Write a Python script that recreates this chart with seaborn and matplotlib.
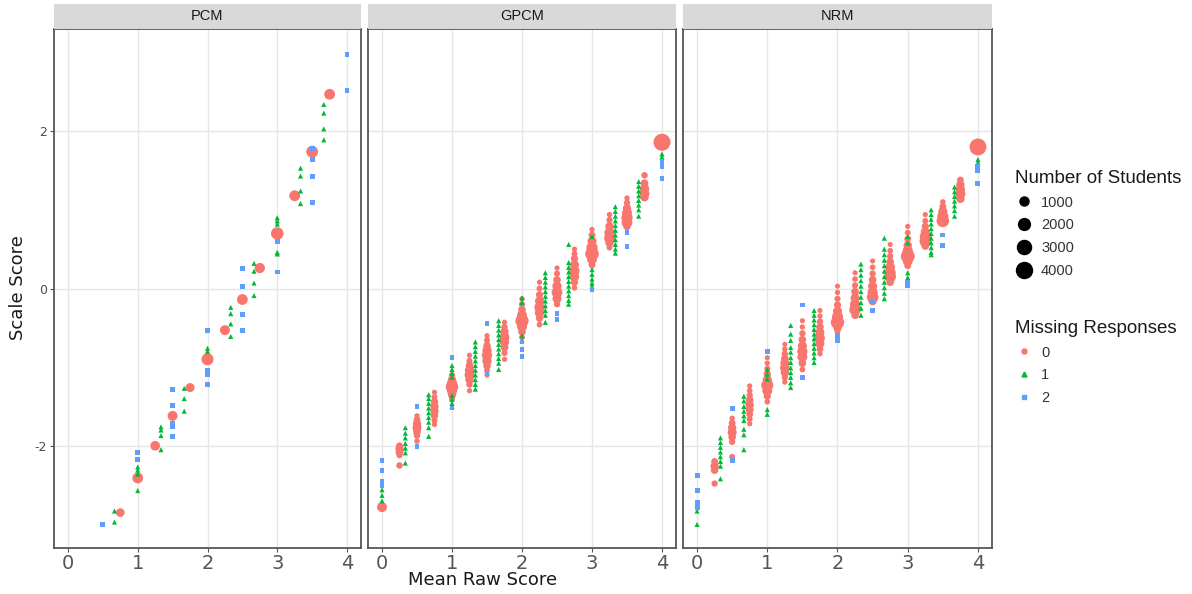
import numpy as np
import pandas as pd
import matplotlib
matplotlib.use("Agg")
import matplotlib.pyplot as plt
from matplotlib.lines import Line2D
import seaborn as sns

# ---------------------------------------------------------------------------
# Scale scores by mean raw score, for three IRT models.
# Missing responses: 0 -> raw scores in steps of 1/4, 1 -> steps of 1/3,
# 2 -> steps of 1/2.  Each inner list holds the distinct scale scores found
# at that raw score (response patterns); counts are numbers of students.
# ---------------------------------------------------------------------------
models = ["PCM", "GPCM", "NRM"]
missing_levels = ["0", "1", "2"]
x_ticks = [0, 1, 2, 3, 4]
y_ticks = [-2, 0, 2]
size_breaks = [1000, 2000, 3000, 4000]

# ---- PCM ------------------------------------------------------------------
pcm_m0_x = [0.75, 1.0, 1.25, 1.5, 1.75, 2.0, 2.25, 2.5, 2.75, 3.0, 3.25, 3.5, 3.75]
pcm_m0_y = [-2.85, -2.41, -2.00, -1.62, -1.26, -0.90, -0.53, -0.14, 0.26, 0.70, 1.18, 1.74, 2.47]
pcm_m0_n = [900, 1600, 1200, 1300, 1000, 2100, 1300, 1600, 1400, 2300, 1600, 2000, 1600]

pcm_m1_x = [2/3, 1.0, 4/3, 5/3, 2.0, 7/3, 8/3, 3.0, 10/3, 11/3]
pcm_m1_y = [[-2.97, -2.83], [-2.27, -2.31, -2.36, -2.57], [-1.76, -1.80, -1.87, -2.05],
            [-1.27, -1.40, -1.56], [-0.76, -0.80], [-0.24, -0.32, -0.45, -0.61],
            [0.32, 0.22, 0.07, -0.09], [0.90, 0.86, 0.82, 0.46, 0.44],
            [1.53, 1.43, 1.24, 1.08], [2.34, 2.23, 2.03, 1.89]]
pcm_m1_n = [50, 60, 55, 50, 60, 55, 50, 65, 55, 50]

pcm_m2_x = [0.5, 1.0, 1.5, 2.0, 2.5, 3.0, 3.5, 4.0]
pcm_m2_y = [[-3.00], [-2.08, -2.17], [-1.29, -1.49, -1.72, -1.76, -1.88],
            [-0.54, -1.04, -1.10, -1.22], [0.25, 0.03, -0.33, -0.53], [0.60, 0.21],
            [1.78, 1.64, 1.42, 1.09], [2.97, 2.52]]
pcm_m2_n = [15, 20, 15, 20, 15, 20, 20, 15]

# ---- GPCM -----------------------------------------------------------------
gpcm_m0_x = [0.0, 0.25, 0.5, 0.75, 1.0, 1.25, 1.5, 1.75, 2.0, 2.25, 2.5, 2.75,
             3.0, 3.25, 3.5, 3.75, 4.0]
gpcm_m0_y = [[-2.78],
             [-2.00, -2.04, -2.08, -2.12, -2.25],
             [-1.62, -1.67, -1.72, -1.77, -1.82, -1.87, -1.94],
             [-1.32, -1.38, -1.44, -1.50, -1.56, -1.62, -1.68, -1.73],
             [-1.10, -1.15, -1.20, -1.25, -1.30, -1.35, -1.41],
             [-0.85, -0.92, -0.98, -1.04, -1.10, -1.16, -1.22, -1.30],
             [-0.60, -0.66, -0.73, -0.79, -0.85, -0.92, -0.98, -1.04, -1.10],
             [-0.43, -0.49, -0.55, -0.62, -0.68, -0.75, -0.82, -0.90],
             [-0.13, -0.20, -0.27, -0.34, -0.41, -0.48, -0.55, -0.62],
             [0.08, 0.00, -0.08, -0.16, -0.24, -0.31, -0.38, -0.46],
             [0.26, 0.19, 0.11, 0.03, -0.05, -0.13, -0.20],
             [0.50, 0.44, 0.38, 0.30, 0.22, 0.15, 0.08, 0.01],
             [0.75, 0.68, 0.60, 0.52, 0.44, 0.37, 0.30],
             [0.94, 0.87, 0.79, 0.71, 0.64, 0.58, 0.52],
             [1.15, 1.09, 1.02, 0.96, 0.90, 0.84, 0.79],
             [1.44, 1.34, 1.27, 1.21, 1.16],
             [1.86]]
gpcm_m0_n = [[1300],
             [400, 800, 650, 260, 320],
             [100, 400, 800, 1000, 650, 320, 130],
             [80, 200, 520, 800, 800, 520, 200, 80],
             [200, 600, 1300, 2300, 1400, 800, 200],
             [80, 240, 600, 1100, 1300, 800, 320, 90],
             [80, 240, 600, 1100, 1400, 1100, 600, 200, 80],
             [80, 290, 800, 1300, 1100, 650, 240, 80],
             [80, 240, 600, 1300, 2600, 1400, 600, 160],
             [80, 200, 500, 1000, 1400, 1100, 500, 160],
             [80, 240, 600, 1100, 1600, 1000, 290],
             [80, 200, 500, 1000, 1400, 1100, 500, 160],
             [100, 400, 1000, 1800, 2800, 1300, 400],
             [100, 290, 800, 1400, 1600, 800, 200],
             [100, 290, 800, 1300, 1800, 1600, 600],
             [320, 600, 1100, 1300, 800],
             [4600]]

gpcm_m1_x = [0.0, 1/3, 2/3, 1.0, 4/3, 5/3, 2.0, 7/3, 8/3, 3.0, 10/3, 11/3, 4.0]
gpcm_m1_y = [[-2.56, -2.63, -2.70],
             [-1.77, -1.84, -1.90, -1.97, -2.03, -2.09, -2.22],
             [-1.35, -1.40, -1.46, -1.52, -1.58, -1.64, -1.70, -1.77, -1.88],
             [-0.98, -1.03, -1.08, -1.13, -1.36, -1.41, -1.46, -1.50],
             [-0.68, -0.74, -0.80, -0.86, -0.92, -0.98, -1.04, -1.10, -1.16, -1.22, -1.28],
             [-0.41, -0.47, -0.53, -0.59, -0.65, -0.71, -0.77, -0.83, -0.89, -0.95, -1.03],
             [-0.12, -0.18, -0.60, -0.66],
             [0.20, 0.14, 0.08, 0.02, -0.04, -0.10, -0.16, -0.22, -0.28, -0.34, -0.43],
             [0.56, 0.33, 0.27, 0.21, 0.15, 0.09, 0.03, -0.03, -0.09, -0.15, -0.20],
             [0.66, 0.24, 0.18, 0.12, 0.07, 0.03],
             [1.04, 0.98, 0.92, 0.86, 0.80, 0.74, 0.68, 0.62, 0.56, 0.50, 0.45],
             [1.36, 1.30, 1.24, 1.18, 1.12, 1.06, 1.00, 0.92],
             [1.71, 1.67]]
gpcm_m1_n = [60, 50, 55, 60, 55, 55, 60, 55, 55, 60, 55, 55, 70]

gpcm_m2_x = [0.0, 0.5, 1.0, 1.5, 2.0, 2.5, 3.0, 3.5, 4.0]
gpcm_m2_y = [[-2.19, -2.31, -2.45, -2.50], [-1.50, -2.01], [-0.88, -1.52],
             [-0.44, -1.08], [-0.68, -0.77, -0.86], [-0.32, -0.39], [-0.01],
             [0.71, 0.54], [1.61, 1.55, 1.40]]
gpcm_m2_n = [20, 15, 15, 15, 20, 15, 15, 20, 20]

# ---- NRM ------------------------------------------------------------------
nrm_m0_x = [0.25, 0.5, 0.75, 1.0, 1.25, 1.5, 1.75, 2.0, 2.25, 2.5, 2.75,
            3.0, 3.25, 3.5, 3.75, 4.0]
nrm_m0_y = [[-2.20, -2.26, -2.31, -2.48],
            [-1.65, -1.71, -1.77, -1.83, -1.89, -1.95, -2.14],
            [-1.24, -1.30, -1.36, -1.42, -1.48, -1.54, -1.60, -1.66, -1.72],
            [-0.88, -0.95, -1.02, -1.09, -1.16, -1.23, -1.30, -1.37, -1.44],
            [-0.71, -0.77, -0.83, -0.89, -0.95, -1.01, -1.07, -1.13, -1.19],
            [-0.41, -0.49, -0.57, -0.65, -0.73, -0.80, -0.87, -0.95, -1.03],
            [-0.28, -0.35, -0.42, -0.49, -0.56, -0.63, -0.70, -0.77, -0.83],
            [0.03, -0.05, -0.13, -0.21, -0.29, -0.36, -0.43, -0.50, -0.55],
            [0.20, 0.12, 0.04, -0.04, -0.12, -0.20, -0.27, -0.34],
            [0.35, 0.27, 0.19, 0.11, 0.03, -0.05, -0.11, -0.16],
            [0.56, 0.48, 0.41, 0.34, 0.27, 0.20, 0.15, 0.08],
            [0.79, 0.71, 0.63, 0.55, 0.48, 0.41, 0.35, 0.29],
            [0.94, 0.86, 0.79, 0.72, 0.66, 0.60, 0.54],
            [1.10, 1.04, 0.98, 0.92, 0.86],
            [1.38, 1.32, 1.26, 1.20, 1.14],
            [1.80]]
nrm_m0_n = [[400, 800, 600, 290],
            [100, 400, 800, 1000, 600, 290, 200],
            [80, 160, 290, 600, 800, 680, 400, 200, 80],
            [50, 100, 240, 500, 1000, 2100, 1300, 500, 160],
            [50, 100, 290, 600, 1000, 1200, 800, 290, 90],
            [50, 100, 290, 600, 1000, 1400, 1300, 600, 160],
            [50, 100, 290, 600, 1000, 1300, 1000, 400, 100],
            [50, 100, 240, 500, 1000, 1700, 2700, 800, 200],
            [50, 160, 290, 600, 1000, 1400, 1900, 600],
            [50, 160, 290, 600, 1000, 1400, 1900, 800],
            [50, 160, 290, 600, 1200, 1700, 1900, 600],
            [80, 200, 400, 800, 1400, 2900, 1300, 400],
            [80, 200, 500, 1000, 1700, 1900, 600],
            [160, 400, 1000, 1700, 2300],
            [400, 800, 1100, 1300, 800],
            [4500]]

nrm_m1_x = [0.0, 1/3, 2/3, 1.0, 4/3, 5/3, 7/3, 8/3, 3.0, 10/3, 11/3, 4.0]
nrm_m1_y = [[-2.75, -2.83, -3.00],
            [-1.90, -1.96, -2.02, -2.08, -2.14, -2.20, -2.26, -2.42],
            [-1.37, -1.43, -1.50, -1.56, -1.62, -1.68, -1.79, -1.86, -2.05],
            [-1.03, -1.09, -1.15, -1.54, -1.60],
            [-0.47, -0.58, -0.66, -0.75, -0.81, -0.88, -0.94, -1.01, -1.07, -1.13, -1.20, -1.26],
            [-0.28, -0.34, -0.40, -0.46, -0.52, -0.58, -0.64, -0.70, -0.76, -0.82, -0.88, -0.94],
            [0.31, 0.24, 0.17, 0.10, 0.03, -0.04, -0.11, -0.18, -0.25, -0.34],
            [0.64, 0.50, 0.43, 0.36, 0.29, 0.22, 0.15, 0.08, 0.01, -0.06, -0.13],
            [0.66, 0.58, 0.20, 0.14, 0.08],
            [1.00, 0.94, 0.88, 0.82, 0.76, 0.70, 0.64, 0.58, 0.52, 0.46, 0.43],
            [1.29, 1.23, 1.17, 1.11, 1.05, 0.99, 0.92],
            [1.64, 1.60]]
nrm_m1_n = [55, 50, 55, 60, 55, 55, 55, 55, 60, 55, 55, 70]

nrm_m2_x = [0.0, 0.5, 1.0, 1.5, 2.0, 2.5, 3.0, 3.5, 4.0]
nrm_m2_y = [[-2.38, -2.57, -2.72, -2.78], [-1.53, -2.19], [-0.80], [-0.21, -1.13],
            [-0.60, -0.66], [-0.16, -0.28], [0.08, 0.04], [0.68, 0.55],
            [1.55, 1.50, 1.34]]
nrm_m2_n = [20, 15, 15, 15, 20, 15, 20, 20, 20]


def expand(model, missing, xs, ys, ns):
    """Turn column-wise lists into long-format rows."""
    rows = []
    for x, yv, nv in zip(xs, ys, ns):
        yv = yv if isinstance(yv, list) else [yv]
        nv = nv if isinstance(nv, list) else [nv] * len(yv)
        for y, n in zip(yv, nv):
            rows.append((model, missing, x, y, n))
    return rows


rows = []
rows += expand("PCM", "0", pcm_m0_x, pcm_m0_y, pcm_m0_n)
rows += expand("PCM", "1", pcm_m1_x, pcm_m1_y, pcm_m1_n)
rows += expand("PCM", "2", pcm_m2_x, pcm_m2_y, pcm_m2_n)
rows += expand("GPCM", "0", gpcm_m0_x, gpcm_m0_y, gpcm_m0_n)
rows += expand("GPCM", "1", gpcm_m1_x, gpcm_m1_y, gpcm_m1_n)
rows += expand("GPCM", "2", gpcm_m2_x, gpcm_m2_y, gpcm_m2_n)
rows += expand("NRM", "0", nrm_m0_x, nrm_m0_y, nrm_m0_n)
rows += expand("NRM", "1", nrm_m1_x, nrm_m1_y, nrm_m1_n)
rows += expand("NRM", "2", nrm_m2_x, nrm_m2_y, nrm_m2_n)
df = pd.DataFrame(rows, columns=["model", "missing", "raw", "score", "students"])

# ---------------------------------------------------------------------------
# Styling
# ---------------------------------------------------------------------------
sns.set_theme(style="white")
plt.rcParams["font.family"] = ["DejaVu Sans"]
plt.rcParams["axes.unicode_minus"] = False

palette = {"0": "#F8766D", "1": "#00BA38", "2": "#619CFF"}
markers = {"0": "o", "1": "^", "2": "s"}
SIZE_NORM = (0, 4800)
SIZE_RANGE = (12, 12 + 4800 * 0.03025)


def marker_area(n):
    lo, hi = SIZE_RANGE
    return lo + (min(n, SIZE_NORM[1]) - SIZE_NORM[0]) / (SIZE_NORM[1] - SIZE_NORM[0]) * (hi - lo)


W, H = 1192, 594
fig = plt.figure(figsize=(W / 100, H / 100), dpi=100)

panel_left = [54, 368, 683]
panel_right = [361, 676, 992]
panel_top, panel_bottom = 29, 548
strip_top = 4

for i, model in enumerate(models):
    l, r = panel_left[i], panel_right[i]
    ax = fig.add_axes([l / W, 1 - panel_bottom / H, (r - l) / W, (panel_bottom - panel_top) / H])
    sub = df[df["model"] == model]
    sns.scatterplot(data=sub, x="raw", y="score", hue="missing", style="missing",
                    size="students", hue_order=missing_levels, style_order=missing_levels,
                    palette=palette, markers=markers, sizes=SIZE_RANGE, size_norm=SIZE_NORM,
                    linewidth=0, legend=False, ax=ax, zorder=3)
    ax.set_xlim(-0.2, 4.2)
    ax.set_ylim(-3.3, 3.3)
    ax.set_xticks(x_ticks)
    ax.set_yticks(y_ticks)
    ax.grid(True, color="#e6e6e6", linewidth=1.0)
    ax.set_axisbelow(True)
    for s in ax.spines.values():
        s.set_color("#555555")
        s.set_linewidth(1.3)
    ax.set_xlabel("")
    ax.set_ylabel("")
    ax.tick_params(axis="x", labelsize=14, labelcolor="#555555", color="#555555",
                   length=3, width=0.8, pad=1.5, bottom=True)
    if i == 0:
        ax.tick_params(axis="y", labelsize=9, labelcolor="#4d4d4d", color="#555555",
                       length=3, width=0.8, pad=2, left=True)
    else:
        ax.tick_params(axis="y", left=False, labelleft=False)

    # facet strip
    sax = fig.add_axes([l / W, 1 - panel_top / H, (r - l) / W, (panel_top - strip_top) / H])
    sax.set_facecolor("#d9d9d9")
    sax.set_xticks([])
    sax.set_yticks([])
    for s in sax.spines.values():
        s.set_visible(False)
    sax.text(0.5, 0.5, model, ha="center", va="center", fontsize=10.5,
             color="#1a1a1a", family="Liberation Sans", transform=sax.transAxes)

fig.text(483 / W, 1 - 580 / H, "Mean Raw Score", ha="center", va="center",
         fontsize=13, color="#1a1a1a")
fig.text(18 / W, 1 - 288 / H, "Scale Score", ha="center", va="center",
         rotation=90, fontsize=13, color="#1a1a1a")

legend_kw = dict(loc="upper left", frameon=False, fontsize=10.5, title_fontsize=13.5,
                 alignment="left", handletextpad=0.5, labelspacing=0.6,
                 borderaxespad=0, handlelength=1.3)

# size legend
size_handles = [Line2D([], [], linestyle="none", marker="o", color="black",
                       markersize=np.sqrt(marker_area(n))) for n in size_breaks]
leg1 = fig.legend(size_handles, [str(n) for n in size_breaks], title="Number of Students",
                  bbox_to_anchor=(1009 / W, 1 - 164 / H), **legend_kw)

# colour / shape legend
miss_handles = [Line2D([], [], linestyle="none", marker=markers[m], color=palette[m],
                       markersize=np.sqrt(marker_area(30))) for m in missing_levels]
leg2 = fig.legend(miss_handles, missing_levels, title="Missing Responses",
                  bbox_to_anchor=(1009 / W, 1 - 314 / H), **legend_kw)

for leg in (leg1, leg2):
    for t in leg.get_texts():
        t.set_color("#333333")
        t.set_family("Liberation Sans")
    leg.get_title().set_family("Liberation Sans")
    leg.get_title().set_color("#1a1a1a")

fig.savefig("out.png", dpi=100)
